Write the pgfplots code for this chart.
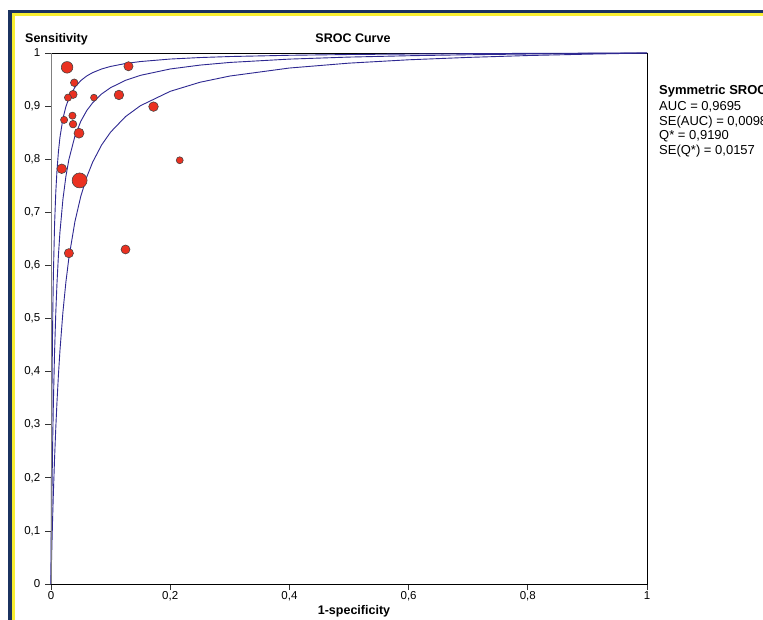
\documentclass[border=0pt]{standalone}
\usepackage{fontspec}
\setmainfont{Liberation Sans}
\usepackage{pgfplots}
\pgfplotsset{compat=1.18}

\definecolor{frameNavy}{RGB}{27,50,96}
\definecolor{frameYellow}{RGB}{248,238,50}
\definecolor{srocBlue}{RGB}{46,40,145}
\definecolor{dotRed}{RGB}{234,49,33}

\begin{document}
\begin{tikzpicture}[x=1pt,y=1pt]
\path[use as bounding box] (0,0) rectangle (763,619);
\fill[white] (0,0) rectangle (763,619);
% window frame
\draw[frameNavy, line width=3.4pt] (10,-5) -- (10,607.3) -- (770,607.3);
\draw[frameYellow, line width=2.8pt] (13.2,-5) -- (13.2,604.3) -- (770,604.3);

\begin{axis}[
  at={(51pt,35pt)}, anchor=south west,
  scale only axis, width=596pt, height=531pt,
  xmin=0, xmax=1, ymin=0, ymax=1,
  xtick={0,0.2,0.4,0.6,0.8,1},
  xticklabels={0,{0,2},{0,4},{0,6},{0,8},1},
  ytick={0,0.1,0.2,0.3,0.4,0.5,0.6,0.7,0.8,0.9,1},
  yticklabels={0,{0,1},{0,2},{0,3},{0,4},{0,5},{0,6},{0,7},{0,8},{0,9},1},
  xtick pos=bottom, ytick pos=left,
  tick align=outside, major tick length=6pt,
  tick style={black!80, line width=0.7pt},
  axis line style={black, line width=0.8pt},
  ticklabel style={font=\fontsize{11.5}{13}\selectfont},
  xticklabel style={inner sep=1.5pt},
  yticklabel style={inner sep=4.5pt},
  clip=false,
]
% upper bound curve
\addplot[srocBlue, line width=0.9pt] table {
x y
0 0
0.0005 0.148
0.001 0.2579
0.0015 0.3428
0.002 0.4103
0.003 0.5109
0.004 0.5824
0.006 0.6770
0.008 0.7368
0.01 0.7781
0.0125 0.8146
0.015 0.8409
0.02 0.8763
0.025 0.8990
0.03 0.9148
0.04 0.9353
0.05 0.9481
0.06 0.9568
0.07 0.9631
0.085 0.9699
0.1 0.9747
0.125 0.9802
0.15 0.9839
0.2 0.9886
0.25 0.99143
0.3 0.99332
0.4 0.99570
0.5 0.99713
0.6 0.99808
0.7 0.99877
0.8 0.99928
0.9 0.99968
1 1
};
% symmetric SROC curve
\addplot[srocBlue, line width=0.9pt] table {
x y
0 0
0.0005 0.0605
0.001 0.1142
0.0015 0.1621
0.002 0.2052
0.003 0.2793
0.004 0.3409
0.006 0.4374
0.008 0.5095
0.01 0.5654
0.0125 0.6198
0.015 0.6623
0.02 0.7244
0.025 0.7676
0.03 0.7993
0.04 0.8429
0.05 0.8714
0.06 0.8916
0.07 0.9065
0.085 0.9229
0.1 0.9347
0.125 0.9485
0.15 0.9579
0.2 0.9699
0.25 0.9772
0.3 0.9822
0.4 0.9885
0.5 0.9923
0.6 0.99485
0.7 0.99668
0.8 0.99806
0.9 0.99914
1 1
};
% lower bound curve
\addplot[srocBlue, line width=0.9pt] table {
x y
0 0
0.0005 0.02508
0.001 0.04895
0.0015 0.0717
0.002 0.09342
0.003 0.1340
0.004 0.1712
0.006 0.2369
0.008 0.2931
0.01 0.3418
0.0125 0.3943
0.015 0.4392
0.02 0.5120
0.025 0.5687
0.03 0.6139
0.04 0.6818
0.05 0.7302
0.06 0.7665
0.07 0.7947
0.085 0.8269
0.1 0.8510
0.125 0.8802
0.15 0.9007
0.2 0.9278
0.25 0.9449
0.3 0.9566
0.4 0.9717
0.5 0.9809
0.6 0.9872
0.7 0.9917
0.8 0.9952
0.9 0.9978
1 1
};
% individual studies, marker radius scaled by study weight
\addplot[scatter, only marks, mark=*,
  point meta=explicit,
  scatter/use mapped color={draw=black!75, fill=dotRed},
  visualization depends on={\thisrow{r} \as \rad},
  scatter/@pre marker code/.append style={/tikz/mark size=\rad},
  mark options={line width=0.55pt}]
  table[x=fpr, y=tpr, meta=r] {
fpr tpr r
0.027 0.973 5.8
0.130 0.975 4.6
0.039 0.944 3.8
0.037 0.922 4.1
0.0285 0.916 3.6
0.072 0.916 3.4
0.114 0.921 4.8
0.022 0.874 3.6
0.036 0.882 3.6
0.037 0.866 3.8
0.047 0.849 5.0
0.172 0.899 4.8
0.216 0.798 3.5
0.125 0.630 4.5
0.018 0.782 4.8
0.048 0.760 7.5
0.030 0.623 4.6
};
\draw[gray, line width=0.8pt] (axis cs:0,0) -- (axis cs:0,1);
\end{axis}

\node[anchor=base west, inner sep=0pt, font=\bfseries\fontsize{12.5}{15}\selectfont] at (25,576.7) {Sensitivity};
\node[anchor=base, inner sep=0pt, font=\bfseries\fontsize{12.5}{15}\selectfont] at (353,576.7) {SROC Curve};
\node[anchor=base, inner sep=0pt, font=\bfseries\fontsize{12.5}{15}\selectfont] at (354,4.5) {1-specificity};

\begin{scope}[every node/.style={anchor=base west, inner sep=0pt, font=\fontsize{13}{15}\selectfont}]
\node[font=\bfseries\fontsize{13}{15}\selectfont] at (659,524) {Symmetric SROC};
\node at (659,508) {AUC = 0,9695};
\node at (659,493) {SE(AUC) = 0,0098};
\node at (659,479) {Q* = 0,9190};
\node at (659,464) {SE(Q*) = 0,0157};
\end{scope}
\end{tikzpicture}
\end{document}
